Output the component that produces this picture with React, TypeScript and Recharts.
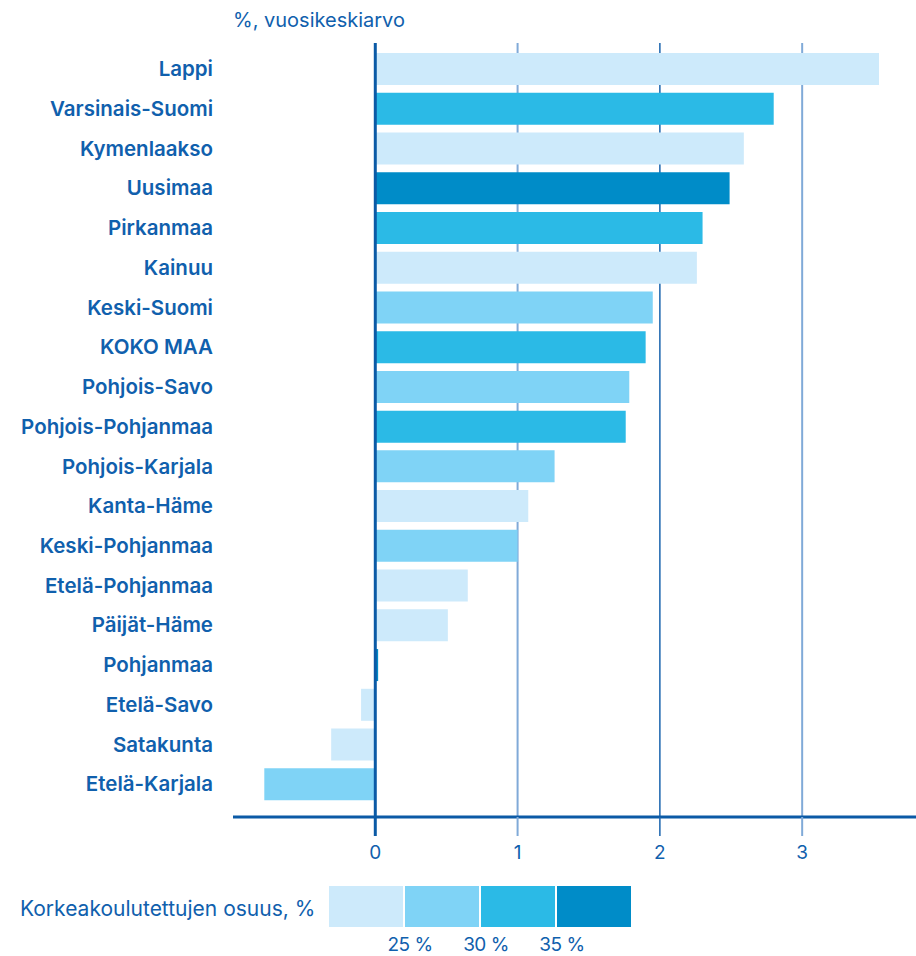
import { BarChart, Bar, XAxis, YAxis, CartesianGrid, ReferenceLine, Cell } from 'recharts'

const regions = [
  'Lappi', 'Varsinais-Suomi', 'Kymenlaakso', 'Uusimaa', 'Pirkanmaa', 'Kainuu', 'Keski-Suomi',
  'KOKO MAA', 'Pohjois-Savo', 'Pohjois-Pohjanmaa', 'Pohjois-Karjala', 'Kanta-Häme',
  'Keski-Pohjanmaa', 'Etelä-Pohjanmaa', 'Päijät-Häme', 'Pohjanmaa', 'Etelä-Savo',
  'Satakunta', 'Etelä-Karjala',
]
const growth = [
  3.54, 2.8, 2.59, 2.49, 2.3, 2.26, 1.95, 1.9, 1.785, 1.76, 1.26, 1.075, 1.0, 0.65, 0.51,
  0.02, -0.1, -0.31, -0.78,
]
// korkeakoulutettujen osuus -luokka (0 = alle 25 %, 3 = yli 35 %)
const shareClass = [0, 2, 0, 3, 2, 0, 1, 2, 1, 2, 1, 0, 1, 0, 0, 3, 0, 0, 1]
const shareColors = ['#cdeafb', '#7fd3f6', '#2bbae6', '#008cc8']
const shareLabels = ['25 %', '30 %', '35 %']
const xTicks = [0, 1, 2, 3]
const xDomain = [-1, 3.8]

const BLUE = '#1060ad'
const FONT = 'Inter, "Noto Sans", sans-serif'

const gridStyle = (v: number) => {
  if (v === 0) return { stroke: '#0b5aa6', strokeWidth: 3 }
  if (v === 2) return { stroke: '#1a64ae', strokeWidth: 1.5 }
  return { stroke: '#80aad8', strokeWidth: 2 }
}

function XTick(props: any) {
  const { x, y, payload } = props
  const s = gridStyle(payload.value)
  return (
    <g>
      <line x1={x} x2={x} y1={y - 19} y2={y} {...s} />
      <text x={x} y={y + 23} textAnchor="middle" fill={BLUE} fontSize={19} fontFamily={FONT}>
        {payload.value}
      </text>
    </g>
  )
}

// only the tick values 1..3 get a grid line (0 is drawn as a reference line on top)
function GridLine(props: any) {
  const { x1, y1, x2, y2, x, width, index } = props
  const v = xDomain[0] + ((x1 - x) / width) * (xDomain[1] - xDomain[0])
  const r = Math.round(v)
  if (Math.abs(v - r) > 0.02 || r <= 0 || !xTicks.includes(r)) return <g key={`g-${index}`} />
  return <line key={`g-${index}`} x1={x1} x2={x2} y1={y1} y2={y2} {...gridStyle(r)} />
}

export default function App() {
  const data = regions.map((name, i) => ({ name, value: growth[i], cls: shareClass[i] }))

  return (
    <div style={{ position: 'absolute', left: 0, top: 0, width: 916, height: 956, background: '#fff', fontFamily: FONT }}>
      <div style={{ position: 'absolute', left: 233, top: 6, fontSize: 20, color: BLUE, lineHeight: '28px' }}>
        %, vuosikeskiarvo
      </div>

      <BarChart
        width={916}
        height={956}
        data={data}
        layout="vertical"
        margin={{ top: 43, right: 0, bottom: 109, left: 0 }}
        barSize={32}
      >
        <CartesianGrid horizontal={false} vertical={GridLine} />
        <XAxis
          type="number"
          domain={xDomain}
          ticks={xTicks}
          allowDataOverflow
          height={30}
          axisLine={{ stroke: '#0b5aa6', strokeWidth: 3 }}
          tickLine={false}
          tickSize={19}
          tickMargin={0}
          tick={<XTick />}
        />
        <YAxis
          type="category"
          dataKey="name"
          width={233}
          axisLine={false}
          tickLine={false}
          tickSize={0}
          tickMargin={20}
          interval={0}
          padding={{ top: 6, bottom: 13 }}
          tick={{ fill: BLUE, fontSize: 20.5, fontWeight: 600, fontFamily: FONT }}
        />
        <Bar dataKey="value" isAnimationActive={false}>
          {data.map((d, i) => (
            <Cell key={i} fill={shareColors[d.cls]} />
          ))}
        </Bar>
        <ReferenceLine x={0} stroke="#0b5aa6" strokeWidth={3} />
      </BarChart>

      <div style={{ position: 'absolute', left: 20, top: 896, fontSize: 21, color: BLUE, lineHeight: '26px' }}>
        Korkeakoulutettujen osuus, %
      </div>
      <div style={{ position: 'absolute', left: 329, top: 886, display: 'flex', gap: 2 }}>
        {shareColors.map((c) => (
          <div key={c} style={{ width: 74, height: 41, background: c }} />
        ))}
      </div>
      {shareLabels.map((l, i) => (
        <div
          key={l}
          style={{
            position: 'absolute',
            left: 329 + (i + 1) * 76 + 5 - 40,
            width: 80,
            top: 933,
            textAlign: 'center',
            fontSize: 19,
            letterSpacing: -0.5,
            color: BLUE,
          }}
        >
          {l}
        </div>
      ))}
    </div>
  )
}
